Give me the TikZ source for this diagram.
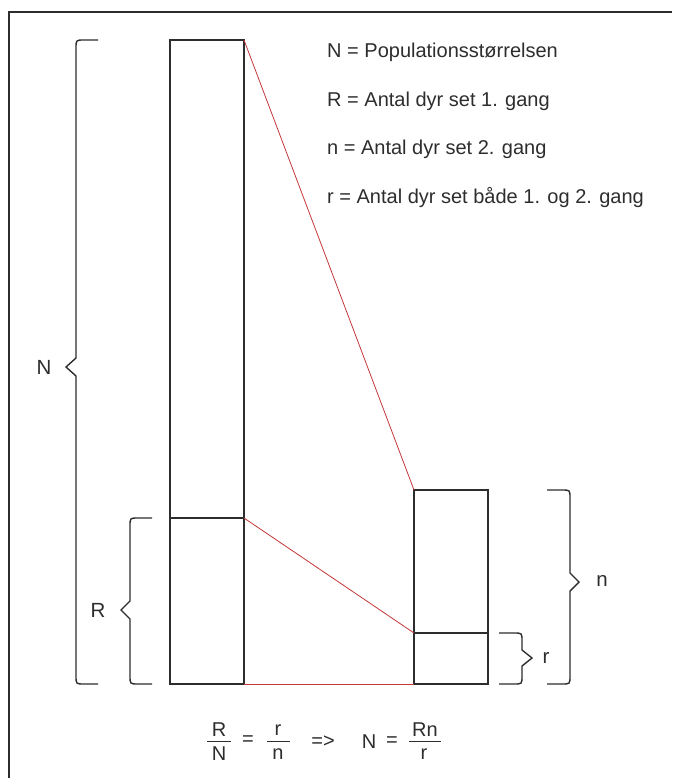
\documentclass[tikz,border=0pt]{standalone}
\usepackage{fontspec}
\setmainfont{Liberation Sans}
\definecolor{linkred}{RGB}{195,55,55}
\definecolor{ink}{RGB}{45,45,45}
\begin{document}
\begin{tikzpicture}[x=1pt,y=-1pt,
  frame/.style={draw=ink,line width=1.6pt},
  box/.style={draw=ink,line width=1.2pt},
  brace/.style={draw=ink,line width=1.4pt},
  link/.style={draw=linkred,line width=0.8pt},
  lbl/.style={font=\fontsize{20.5}{24}\selectfont,inner sep=0pt,text=ink},
  leg/.style={font=\fontsize{20}{24}\selectfont,inner sep=0pt,text=ink,anchor=base west},
  fml/.style={font=\fontsize{20}{24}\selectfont,inner sep=0pt,text=ink},
  bar/.style={draw=ink,line width=1pt},
]
\useasboundingbox (0,0) rectangle (672,778);
% frame (top and left edges only)
\draw[frame] (9,778) -- (9,12) -- (672,12);

% corners of the boxes
\coordinate (NTL) at (170,40);  \coordinate (NTR) at (244,40);
\coordinate (RTL) at (170,518); \coordinate (RTR) at (244,518);
\coordinate (NBL) at (170,684); \coordinate (NBR) at (244,684);
\coordinate (nTL) at (414,490); \coordinate (nTR) at (488,490);
\coordinate (rTL) at (414,633); \coordinate (rTR) at (488,633);
\coordinate (nBL) at (414,684); \coordinate (nBR) at (488,684);

% big box (population) and small box (second catch)
\draw[box] (NTL) rectangle (NBR);
\draw[box] (RTL) -- (RTR);
\draw[box] (nTL) rectangle (nBR);
\draw[box] (rTL) -- (rTR);

% red connectors
\draw[link] (NTR) -- (nTL);
\draw[link] (RTR) -- (rTL);
\draw[link] (NBR) -- (nBL);

% braces
\draw[brace] (98,40) -- (84,40) .. controls (76,40) .. (76,48) -- (76,358)
  -- (66,367) -- (76,376) -- (76,676) .. controls (76,684) .. (84,684) -- (98,684);
\draw[brace] (152,518) -- (138,518) .. controls (130,518) .. (130,526) -- (130,601)
  -- (121,610) -- (130,619) -- (130,676) .. controls (130,684) .. (138,684) -- (152,684);
\draw[brace] (547,490) -- (562,490) .. controls (570,490) .. (570,498) -- (570,573)
  -- (579,582) -- (570,591) -- (570,676) .. controls (570,684) .. (562,684) -- (547,684);
\draw[brace] (499,633) -- (514,633) .. controls (522,633) .. (522,641) -- (522,650)
  -- (532,658) -- (522,666) -- (522,676) .. controls (522,684) .. (514,684) -- (499,684);

% brace labels
\node[lbl] (labN) at (44,367) {N};
\node[lbl] (labR) at (98,610) {R};
\node[lbl] (labn) at (602,581) {n};
\node[lbl] (labr) at (546,658) {r};

% legend
\node[leg] (leg1) at (327,58)  {N = Populationsstørrelsen};
\node[leg] (leg2) at (327,107) {R = Antal dyr set 1. gang};
\node[leg] (leg3) at (327,155) {n = Antal dyr set 2. gang};
\node[leg] (leg4) at (327,203) {r = Antal dyr set både 1. og 2. gang};

% formula
\node[fml] (f1n) at (219,730) {R};
\node[fml] (f1d) at (219,754) {N};
\draw[bar] (207,741) -- (231,741);
\node[fml] (eq1) at (248,741) {=};
\node[fml] (f2n) at (278,730) {r};
\node[fml] (f2d) at (278,754) {n};
\draw[bar] (267,741) -- (290,741);
\node[fml] (impl) at (323,742) {=>};
\node[fml] (bigN) at (369,742) {N};
\node[fml] (eq2) at (392,742) {=};
\node[fml] (f3n) at (425,730) {Rn};
\node[fml] (f3d) at (424,754) {r};
\draw[bar] (409,741) -- (441,741);
\end{tikzpicture}
\end{document}
